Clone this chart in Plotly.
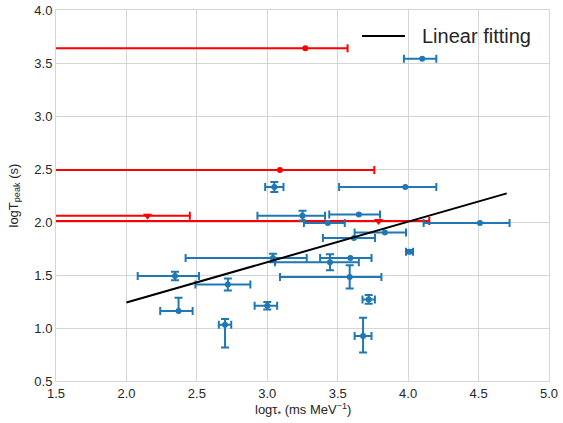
import plotly.graph_objects as go

# Blue data points with errors
bx = [4.10, 3.05, 3.98, 3.25, 3.65, 3.43, 3.835, 3.615, 4.01, 4.51, 3.04,
      3.445, 3.59, 2.345, 2.72, 2.37, 3.00, 2.70, 3.585, 3.72, 3.68]
by = [3.54, 2.33, 2.33, 2.06, 2.07, 1.99, 1.90, 1.85, 1.72, 1.99, 1.66,
      1.62, 1.66, 1.49, 1.41, 1.16, 1.21, 1.03, 1.48, 1.27, 0.925]
bx_lo = [0.13, 0.065, 0.47, 0.32, 0.21, 0.17, 0.215, 0.22, 0.025, 0.40, 0.62,
         0.39, 0.215, 0.265, 0.23, 0.13, 0.09, 0.044, 0.495, 0.044, 0.06]
bx_hi = [0.10, 0.065, 0.22, 0.16, 0.15, 0.12, 0.15, 0.15, 0.025, 0.21, 0.24,
         0.205, 0.15, 0.17, 0.16, 0.10, 0.07, 0.044, 0.225, 0.044, 0.06]
by_lo = [0, 0.047, 0, 0.045, 0, 0, 0, 0, 0.015, 0, 0.04,
         0.075, 0, 0.04, 0.057, 0.0, 0.036, 0.214, 0.107, 0.042, 0.157]
by_hi = [0, 0.047, 0, 0.045, 0, 0, 0, 0, 0.015, 0, 0.04,
         0.075, 0, 0.04, 0.057, 0.125, 0.036, 0.054, 0.113, 0.042, 0.172]

# Red upper-limit points
rx = [3.27, 3.09, 2.15, 3.79]
ry = [3.64, 2.49, 2.06, 2.01]
rx_hi = [0.30, 0.67, 0.30, 0.36]
rx_lo = [3.0, 3.0, 3.0, 3.0]
r_sym = ["circle", "circle", "triangle-down", "triangle-down"]

# Linear fit line
fit_x = [2.0, 4.7]
fit_y = [1.24, 2.27]
fit_label = "Linear fitting"

x_ticks = [1.5, 2.0, 2.5, 3.0, 3.5, 4.0, 4.5, 5.0]
y_ticks = [0.5, 1.0, 1.5, 2.0, 2.5, 3.0, 3.5, 4.0]

BLUE = "#1f77b4"
RED = "#ff0000"
TXT = "#262626"
W, H = 563, 423
ML, MR, MT, MB = 56, 14, 10, 42

fig = go.Figure()

for sym, size in [("circle", 6), ("triangle-down", 8)]:
    idx = [i for i in range(len(rx)) if r_sym[i] == sym]
    fig.add_trace(go.Scatter(
        x=[rx[i] for i in idx], y=[ry[i] for i in idx], mode="markers", showlegend=False,
        marker=dict(color=RED, size=size, symbol=sym, line=dict(width=0)),
        error_x=dict(type="data", symmetric=False, array=[rx_hi[i] for i in idx],
                     arrayminus=[rx_lo[i] for i in idx], color=RED, thickness=2, width=4),
    ))

idx_y = [i for i in range(len(bx)) if (by_lo[i] + by_hi[i]) > 0]
idx_n = [i for i in range(len(bx)) if (by_lo[i] + by_hi[i]) == 0]

fig.add_trace(go.Scatter(
    x=[bx[i] for i in idx_y], y=[by[i] for i in idx_y], mode="markers",
    showlegend=False, marker=dict(color=BLUE, size=6),
    error_x=dict(type="data", symmetric=False, array=[bx_hi[i] for i in idx_y],
                 arrayminus=[bx_lo[i] for i in idx_y], color=BLUE, thickness=2, width=4),
    error_y=dict(type="data", symmetric=False, array=[by_hi[i] for i in idx_y],
                 arrayminus=[by_lo[i] for i in idx_y], color=BLUE, thickness=2, width=4),
))
fig.add_trace(go.Scatter(
    x=[bx[i] for i in idx_n], y=[by[i] for i in idx_n], mode="markers",
    showlegend=False, marker=dict(color=BLUE, size=6),
    error_x=dict(type="data", symmetric=False, array=[bx_hi[i] for i in idx_n],
                 arrayminus=[bx_lo[i] for i in idx_n], color=BLUE, thickness=2, width=4),
))

fig.add_trace(go.Scatter(
    x=fit_x, y=fit_y, mode="lines", name=fit_label, showlegend=False,
    line=dict(color="black", width=2),
))

# legend drawn as a sample line + label (paper coordinates)
pw = W - ML - MR
ph = H - MT - MB
def px(xp):
    return (xp - ML) / pw
def py(yp):
    return (H - MB - yp) / ph

fig.add_shape(type="line", xref="paper", yref="paper",
              x0=px(362), x1=px(405), y0=py(36), y1=py(36),
              line=dict(color="black", width=2))
fig.add_annotation(xref="paper", yref="paper", x=px(420), y=py(36),
                   xanchor="left", yanchor="middle", showarrow=False,
                   text=fit_label, font=dict(size=20, color=TXT))

axis_common = dict(
    showgrid=True, gridcolor="#d5d5d5", gridwidth=1,
    showline=True, linecolor="#d5d5d5", linewidth=1, mirror=True,
    zeroline=False, ticks="", tickfont=dict(size=13, color=TXT),
    tickformat=".1f", automargin=False,
)

fig.update_layout(
    width=W, height=H,
    margin=dict(l=ML, r=MR, t=MT, b=MB, autoexpand=False),
    paper_bgcolor="white", plot_bgcolor="white",
    font=dict(family="Liberation Sans, Arial, sans-serif", color=TXT),
    xaxis=dict(range=[1.5, 5.0], tickvals=x_ticks, **axis_common),
    yaxis=dict(range=[0.5, 4.0], tickvals=y_ticks, **axis_common),
    showlegend=False,
)

fig.add_annotation(xref="paper", yref="paper", x=0.5, y=py(410),
                   xanchor="center", yanchor="middle", showarrow=False,
                   text="logτ<sub>*</sub> (ms MeV<sup>−1</sup>)", font=dict(size=13, color=TXT))
fig.add_annotation(xref="paper", yref="paper", x=px(14), y=0.5,
                   xanchor="center", yanchor="middle", showarrow=False, textangle=-90,
                   text="logT<sub>peak</sub> (s)", font=dict(size=13, color=TXT))

fig.write_html("out.html", config={"displayModeBar": False},
               post_script="document.body.style.margin='0px';document.body.style.overflow='hidden';")
